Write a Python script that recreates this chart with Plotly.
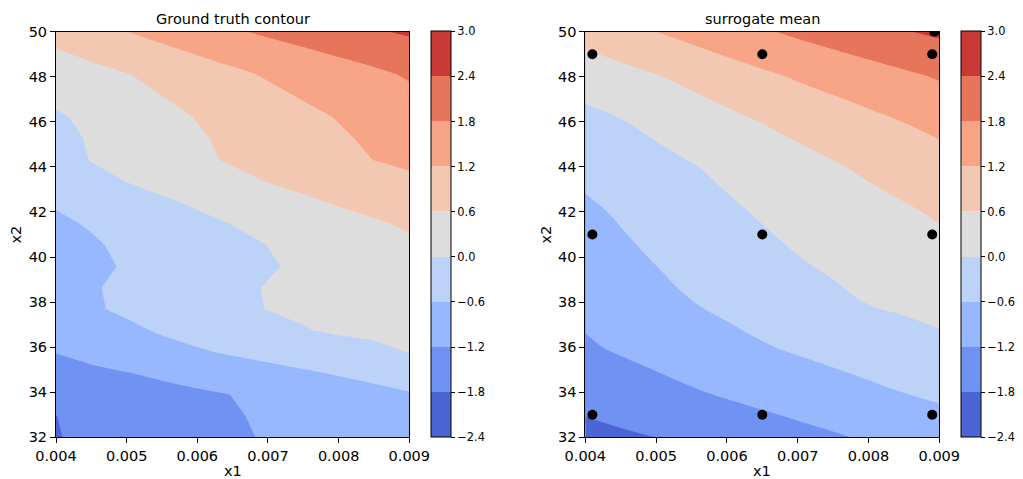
import plotly.graph_objects as go

# ---- data -------------------------------------------------------------
# Ground-truth response sampled on a grid (rows: x2, columns: x1)
gt_x1 = [0.0040, 0.0045, 0.0050, 0.0055, 0.0060, 0.0065, 0.0070, 0.0075, 0.0080, 0.0085, 0.0090]
gt_x2 = [32.000, 32.947, 33.895, 34.842, 35.789, 36.737, 37.684, 38.632, 39.579, 40.526,
         41.474, 42.421, 43.368, 44.316, 45.263, 46.211, 47.158, 48.105, 49.053, 50.000]
gt_z = [
    [-1.820, -1.712, -1.601, -1.491, -1.381, -1.271, -1.160, -1.110, -1.060, -1.005, -0.950],
    [-1.804, -1.690, -1.576, -1.462, -1.348, -1.234, -1.140, -1.055, -0.970, -0.885, -0.800],
    [-1.617, -1.532, -1.447, -1.363, -1.278, -1.193, -1.082, -0.973, -0.864, -0.754, -0.645],
    [-1.386, -1.301, -1.217, -1.112, -1.001, -0.891, -0.781, -0.671, -0.561, -0.451, -0.342],
    [-1.184, -1.051, -0.918, -0.786, -0.653, -0.535, -0.425, -0.316, -0.207, -0.098, 0.011],
    [-1.097, -0.903, -0.709, -0.544, -0.417, -0.290, -0.163, -0.023, 0.060, 0.085, 0.110],
    [-1.010, -0.660, -0.515, -0.379, -0.243, -0.106, 0.011, 0.062, 0.113, 0.163, 0.214],
    [-0.923, -0.640, -0.502, -0.365, -0.229, -0.093, 0.024, 0.097, 0.171, 0.244, 0.318],
    [-0.836, -0.697, -0.561, -0.431, -0.301, -0.171, -0.042, 0.078, 0.193, 0.307, 0.422],
    [-0.750, -0.646, -0.526, -0.393, -0.260, -0.127, 0.005, 0.135, 0.265, 0.396, 0.526],
    [-0.663, -0.568, -0.423, -0.278, -0.133, 0.011, 0.142, 0.274, 0.405, 0.537, 0.665],
    [-0.565, -0.404, -0.242, -0.081, 0.072, 0.217, 0.362, 0.507, 0.645, 0.768, 0.892],
    [-0.439, -0.210, 0.012, 0.164, 0.317, 0.469, 0.618, 0.743, 0.868, 0.993, 1.118],
    [-0.313, 0.026, 0.185, 0.345, 0.504, 0.655, 0.794, 0.932, 1.070, 1.205, 1.286],
    [-0.187, 0.056, 0.220, 0.384, 0.548, 0.699, 0.845, 0.990, 1.136, 1.279, 1.421],
    [-0.061, 0.107, 0.279, 0.452, 0.621, 0.772, 0.923, 1.073, 1.226, 1.391, 1.555],
    [0.112, 0.275, 0.437, 0.600, 0.761, 0.923, 1.084, 1.242, 1.391, 1.541, 1.690],
    [0.329, 0.454, 0.580, 0.745, 0.917, 1.090, 1.252, 1.397, 1.542, 1.687, 1.857],
    [0.546, 0.704, 0.882, 1.061, 1.235, 1.392, 1.549, 1.706, 1.861, 2.012, 2.164],
    [0.760, 0.980, 1.196, 1.376, 1.553, 1.729, 1.891, 2.042, 2.194, 2.345, 2.470],
]

# Surrogate (GP) posterior mean on a coarser grid
sm_x1 = [0.0040, 0.0045, 0.0050, 0.0055, 0.0060, 0.0065, 0.0070, 0.0075, 0.0080, 0.0085, 0.0090]
sm_x2 = [32, 34, 36, 38, 40, 42, 44, 46, 48, 50]
sm_z = [
    [-1.960, -1.880, -1.798, -1.690, -1.582, -1.474, -1.366, -1.258, -1.140, -1.020, -0.890],
    [-1.613, -1.491, -1.369, -1.246, -1.133, -1.025, -0.917, -0.809, -0.701, -0.594, -0.505],
    [-1.267, -1.131, -1.008, -0.885, -0.762, -0.639, -0.530, -0.427, -0.324, -0.221, -0.117],
    [-1.055, -0.906, -0.757, -0.609, -0.480, -0.353, -0.226, -0.099, 0.017, 0.093, 0.169],
    [-0.875, -0.717, -0.564, -0.425, -0.286, -0.147, -0.008, 0.098, 0.202, 0.306, 0.410],
    [-0.695, -0.542, -0.390, -0.238, -0.085, 0.053, 0.172, 0.292, 0.411, 0.531, 0.667],
    [-0.459, -0.316, -0.172, -0.029, 0.115, 0.260, 0.404, 0.548, 0.692, 0.835, 0.979],
    [-0.162, -0.027, 0.130, 0.292, 0.454, 0.615, 0.763, 0.910, 1.058, 1.206, 1.343],
    [0.252, 0.410, 0.568, 0.740, 0.914, 1.088, 1.253, 1.399, 1.546, 1.692, 1.846],
    [0.805, 1.000, 1.196, 1.376, 1.556, 1.735, 1.900, 2.056, 2.212, 2.369, 2.498],
]

# Training points of the surrogate
pts_x1 = [0.0041, 0.0065, 0.0089, 0.0041, 0.0065, 0.0089, 0.0041, 0.0065, 0.0089, 0.00893]
pts_x2 = [33.0, 33.0, 33.0, 41.0, 41.0, 41.0, 49.0, 49.0, 49.0, 50.0]

levels = [-2.4, -1.8, -1.2, -0.6, 0.0, 0.6, 1.2, 1.8, 2.4, 3.0]
x1_ticks = [0.004, 0.005, 0.006, 0.007, 0.008, 0.009]
x2_ticks = [32, 34, 36, 38, 40, 42, 44, 46, 48, 50]

# coolwarm colour for each filled band between consecutive levels
band_colors = ["#4b65d5", "#7092f3", "#97b8ff", "#bcd2f7", "#dddddd",
               "#f3c8b3", "#f7a586", "#e7755c", "#c93936"]

# ---- styling helpers ---------------------------------------------------
W, H = 1023, 479
FONT = "DejaVu Sans"


def px_x(p):
    return p / W


def px_y(p):
    return 1 - p / H


def stepped_scale(colors):
    n = len(colors)
    edges = [0.0] + [0.05 + (k + 1) * 0.1 for k in range(n - 1)] + [1.0]
    scale = []
    for k, c in enumerate(colors):
        scale.append([edges[k], c])
        scale.append([edges[k + 1], c])
    return scale


def fmt(v):
    s = f"{v:.1f}"
    return s.replace("-", "\u2212")


scale = stepped_scale(band_colors)

plot_top, plot_bot = 31.7, 437.3
left_dom = (56.0, 409.3)
right_dom = (585.3, 939.3)
cb_left_x = 431.3
cb_right_x = 961.3


def colorbar(xpix):
    return dict(
        x=px_x(xpix), xanchor="left", xpad=0,
        y=px_y(plot_bot), yanchor="bottom", ypad=0,
        len=plot_bot - plot_top, lenmode="pixels",
        thickness=20, thicknessmode="pixels",
        outlinewidth=1, outlinecolor="black", borderwidth=0,
        tickmode="array", tickvals=levels, ticktext=[fmt(v) for v in levels],
        ticks="outside", ticklen=4, tickwidth=1, tickcolor="black",
        tickfont=dict(family=FONT, size=11.4, color="black"),
    )


contours = dict(start=levels[0], end=levels[-1], size=0.6,
                coloring="fill", showlines=False)

fig = go.Figure()
fig.add_trace(go.Contour(
    x=gt_x1, y=gt_x2, z=gt_z, xaxis="x", yaxis="y",
    contours=contours, colorscale=scale, zmin=levels[0], zmax=levels[-1],
    line=dict(width=0, smoothing=0), colorbar=colorbar(cb_left_x),
    hoverinfo="skip",
))
fig.add_trace(go.Contour(
    x=sm_x1, y=sm_x2, z=sm_z, xaxis="x2", yaxis="y2",
    contours=contours, colorscale=scale, zmin=levels[0], zmax=levels[-1],
    line=dict(width=0, smoothing=1.3), colorbar=colorbar(cb_right_x),
    hoverinfo="skip",
))
fig.add_trace(go.Scatter(
    x=pts_x1, y=pts_x2, xaxis="x2", yaxis="y2", mode="markers",
    marker=dict(color="black", size=10, line=dict(width=0)),
    showlegend=False, cliponaxis=True, hoverinfo="skip",
))

axis_common = dict(
    showgrid=False, zeroline=False, showline=True, linecolor="black", linewidth=1,
    mirror=True, ticks="outside", ticklen=5, tickwidth=1, tickcolor="black",
    tickfont=dict(family=FONT, size=14.5, color="black"), automargin=False,
)

xa = dict(axis_common, range=[0.004, 0.009], tickvals=x1_ticks,
          ticktext=[f"{v:.3f}" for v in x1_ticks])
ya = dict(axis_common, range=[32, 50], tickvals=x2_ticks,
          ticktext=[str(v) for v in x2_ticks])

fig.update_layout(
    width=W, height=H,
    margin=dict(l=0, r=0, t=0, b=0, autoexpand=False),
    paper_bgcolor="white", plot_bgcolor="white",
    showlegend=False,
    xaxis=dict(xa, domain=[px_x(left_dom[0]), px_x(left_dom[1])], anchor="y"),
    yaxis=dict(ya, domain=[px_y(plot_bot), px_y(plot_top)], anchor="x"),
    xaxis2=dict(xa, domain=[px_x(right_dom[0]), px_x(right_dom[1])], anchor="y2"),
    yaxis2=dict(ya, domain=[px_y(plot_bot), px_y(plot_top)], anchor="x2"),
    font=dict(family=FONT, color="black"),
)

label_font = dict(family=FONT, size=14.5, color="black")
annos = []
for (l, r), title, ylab_x in [(left_dom, "Ground truth contour", 15),
                              (right_dom, "surrogate mean", 545)]:
    cx = px_x((l + r) / 2)
    annos.append(dict(text=title, x=cx, y=px_y(19), xref="paper", yref="paper",
                      showarrow=False, xanchor="center", yanchor="middle",
                      font=label_font))
    annos.append(dict(text="x1", x=cx, y=px_y(471), xref="paper", yref="paper",
                      showarrow=False, xanchor="center", yanchor="middle",
                      font=label_font))
    annos.append(dict(text="x2", x=px_x(ylab_x), y=px_y((plot_top + plot_bot) / 2),
                      xref="paper", yref="paper", showarrow=False, textangle=-90,
                      xanchor="center", yanchor="middle", font=label_font))
fig.update_layout(annotations=annos)

fig.write_html("out.html")
